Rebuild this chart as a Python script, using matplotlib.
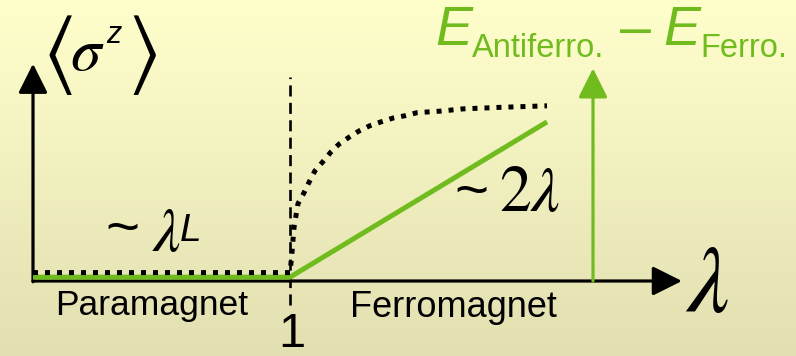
import numpy as np
import matplotlib
matplotlib.use("Agg")
import matplotlib.pyplot as plt

plt.rcParams["mathtext.fontset"] = "stix"

W, H = 796, 356
GREEN = "#70bc1f"

# coupling axis: paramagnet below 1, ferromagnet above
lam_flat = [0.0, 1.0]
mag_flat = [0.11, 0.11]

# <sigma^z> above the transition
lam_ferro = [1.000, 1.004, 1.008, 1.012, 1.016, 1.023, 1.031, 1.054, 1.074,
             1.097, 1.128, 1.160, 1.191, 1.230, 1.268, 1.311, 1.354, 1.401,
             1.447, 1.494, 1.537, 1.584, 1.673, 1.817, 2.000]
mag_ferro = [0.11, 0.24, 0.38, 0.55, 0.71, 0.85, 1.01, 1.15, 1.29,
             1.44, 1.56, 1.69, 1.79, 1.88, 1.96, 2.03, 2.08, 2.13,
             2.16, 2.20, 2.21, 2.22, 2.25, 2.27, 2.29]

# energy gap E_AF - E_F: zero, then ~2 lambda
lam_gap = [0.0, 1.0, 2.0]
gap = [0.05, 0.05, 2.08]

lam_c = 1.0
x_axis_end = 2.525
y_axis_end = 2.84
gap_axis_pos = 2.179
gap_axis_end = 2.78

fig = plt.figure(figsize=(W / 100, H / 100), dpi=100)
ax = fig.add_axes([0, 0, 1, 1])
xlim = (-33 / 257, (W - 33) / 257)
ylim = (-(H - 281) / 76.5, 281 / 76.5)
ax.set_xlim(xlim)
ax.set_ylim(ylim)
ax.axis("off")

# soft yellow background, darker towards the bottom
top = np.array([255, 255, 204]) / 255
bot = np.array([226, 223, 177]) / 255
t = np.linspace(0, 1, 256)[:, None]
grad = (top * (1 - t) + bot * t)[:, None, :]
ax.imshow(grad, extent=(*xlim, *ylim), aspect="auto", zorder=0)

arrow_kw = dict(arrowstyle="-|>,head_length=1.0,head_width=0.5",
                mutation_scale=18, shrinkA=0, shrinkB=0)

# axes arrows
ax.annotate("", xy=(x_axis_end, 0), xytext=(0, 0),
            arrowprops=dict(color="black", lw=2.3, **arrow_kw), zorder=3)
ax.annotate("", xy=(0, y_axis_end), xytext=(0, -0.01),
            arrowprops=dict(color="black", lw=2.3, **arrow_kw), zorder=3)
ax.annotate("", xy=(gap_axis_pos, gap_axis_end), xytext=(gap_axis_pos, 0),
            arrowprops=dict(color=GREEN, lw=2.3, **arrow_kw), zorder=3)

# critical point
ax.plot([lam_c, lam_c], [-0.31, 2.67], color="black", lw=1.9,
        dashes=(4.2, 2.4), zorder=2)

# energy gap
ax.plot(lam_gap, gap, color=GREEN, lw=3.6, solid_capstyle="butt", zorder=4)

# magnetisation
ax.plot(lam_flat + lam_ferro[1:], mag_flat + mag_ferro[1:], color="black",
        lw=3.6, dashes=(1, 1.4), zorder=5)


def label(x, y, s, size, **kw):
    kw.setdefault("ha", "left")
    kw.setdefault("va", "baseline")
    fig.text(x / W, 1 - y / H, s, fontsize=size, **kw)


sans = "Liberation Sans"

# <sigma^z>
label(57, 55, r"$\langle$", 62, ha="center", va="center")
label(142, 55, r"$\rangle$", 62, ha="center", va="center")
label(70, 70, r"$\sigma$", 44)
label(106, 43, "z", 22, family=sans, style="italic")

# ~ lambda^L
label(122, 231, "~", 42, family=sans, ha="center", va="center")
label(152, 251, r"$\lambda$", 44)
label(180, 241, "L", 28, family=sans, style="italic")

# ~ 2 lambda
label(471, 194, "~", 42, family=sans, ha="center", va="center")
label(499, 211, r"$2\lambda$", 46)

# axis label
label(685, 312, r"$\lambda$", 68)
label(292, 347, "1", 35, family=sans, ha="center")

label(55, 315, "Paramagnet", 25.5, family=sans)
label(350, 317, "Ferromagnet", 26, family=sans)

# green energy axis title
label(435, 45, "E", 40, family=sans, style="italic", color=GREEN)
label(472, 57, "Antiferro.", 23.5, family=sans, color=GREEN)
label(620, 45, "\u2013", 40, family=sans, color=GREEN)
label(663, 45, "E", 40, family=sans, style="italic", color=GREEN)
label(700, 57, "Ferro.", 23.5, family=sans, color=GREEN)

fig.savefig("out.png", dpi=100)
